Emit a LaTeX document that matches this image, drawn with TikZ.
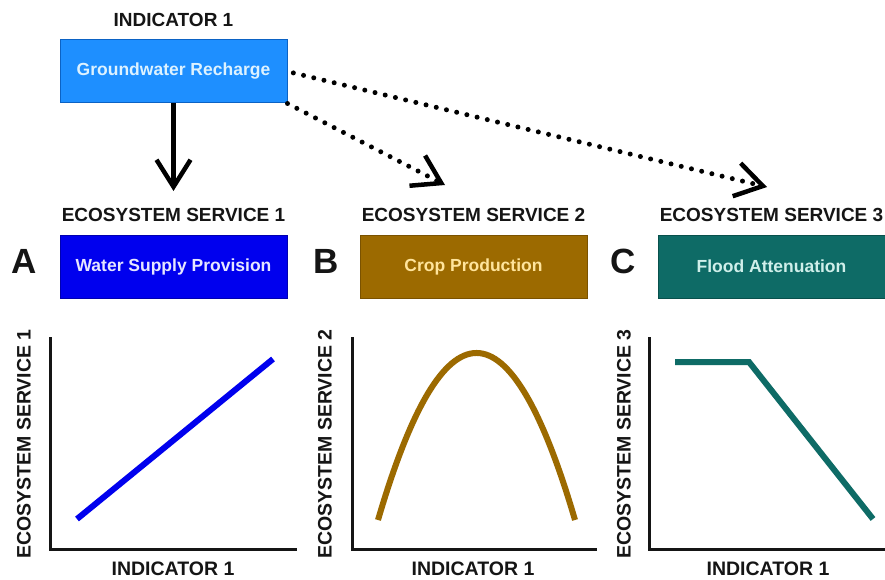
\documentclass[tikz,border=0pt]{standalone}
\usepackage{fontspec}
\setmainfont{Liberation Sans}
\usetikzlibrary{arrows.meta}
\definecolor{topblue}{HTML}{1E8FFF}
\definecolor{topblueD}{HTML}{0B62C4}
\definecolor{toptext}{HTML}{DDF2FF}
\definecolor{blueA}{HTML}{0000EE}
\definecolor{blueAD}{HTML}{0000B0}
\definecolor{textA}{HTML}{E6E6FF}
\definecolor{brownB}{HTML}{9C6A00}
\definecolor{brownBD}{HTML}{7A5200}
\definecolor{textB}{HTML}{FFE49C}
\definecolor{tealC}{HTML}{0E6B66}
\definecolor{tealCD}{HTML}{08504C}
\definecolor{textC}{HTML}{CFEFEA}
\definecolor{headtext}{HTML}{151515}
\tikzset{
  boxnode/.style={minimum width=227pt, minimum height=63pt, inner sep=0pt, line width=1pt,
    font=\fontsize{17.5}{20}\selectfont\bfseries},
  headnode/.style={font=\fontsize{19}{22}\selectfont\bfseries, text=headtext, inner sep=0pt},
  axlabel/.style={font=\fontsize{19.5}{22}\selectfont\bfseries, text=headtext, inner sep=0pt},
  letternode/.style={font=\fontsize{35}{40}\selectfont\bfseries, text=headtext, inner sep=0pt},
  axisline/.style={line width=3pt, line join=miter, line cap=rect, draw=headtext},
  solidarr/.style={line width=4.5pt, -{Straight Barb[length=27pt,width=34pt,line width=4.5pt]}},
  dotarr/.style={line width=5pt, line cap=round, dash pattern=on 0pt off 10.5pt,
    -{Straight Barb[length=27pt,width=34pt,line width=4.5pt]}},
  curve/.style={line width=6pt, line cap=butt, line join=miter}
}
\begin{document}
\begin{tikzpicture}[x=1pt,y=-1pt]
\useasboundingbox[fill=white] (0,0) rectangle (885,580);

% top indicator
\node[headnode] (ind) at (173.5,20) {INDICATOR 1};
\node[boxnode, fill=topblue, draw=topblueD, text=toptext] (gw) at (173.5,71.5) {Groundwater Recharge};

% headings
\node[headnode] (h1) at (173.5,215) {ECOSYSTEM SERVICE 1};
\node[headnode] (h2) at (473.5,215) {ECOSYSTEM SERVICE 2};
\node[headnode] (h3) at (771.5,215) {ECOSYSTEM SERVICE 3};

% service boxes
\node[boxnode, fill=blueA, draw=blueAD, text=textA] (bA) at (173.5,266.5) {Water Supply Provision};
\node[boxnode, fill=brownB, draw=brownBD, text=textB] (bB) at (473.5,266.5) {Crop Production};
\node[boxnode, fill=tealC, draw=tealCD, text=textC] (bC) at (771.5,266.5) {Flood Attenuation};

% panel letters
\node[letternode] (lA) at (24,261) {A};
\node[letternode] (lB) at (326,261) {B};
\node[letternode] (lC) at (623,261) {C};

% arrows
\coordinate (t1) at (173.5,191);
\coordinate (t2) at (445,185);
\coordinate (t3) at (767,187);
\draw[solidarr] (gw.south) -- (t1);
\draw[dotarr] (gw.south east) -- (t2);
\draw[dotarr, shorten <=6pt] (gw.east) -- (t3);

% panel A
\draw[axisline] (50,338) -- (50,549) -- (295,549);
\draw[curve, draw=blueA] (77,519) -- (273,359);
\node[axlabel, rotate=90] (yA) at (24,444) {ECOSYSTEM SERVICE 1};
\node[axlabel] (xA) at (173,569) {INDICATOR 1};

% panel B
\draw[axisline] (352,338) -- (352,549) -- (595,549);
\draw[curve, draw=brownB] (378,520) .. controls (443.3,297.3) and (509.7,297.3) .. (575,520);
\node[axlabel, rotate=90] (yB) at (325,444) {ECOSYSTEM SERVICE 2};
\node[axlabel] (xB) at (473,569) {INDICATOR 1};

% panel C
\draw[axisline] (649,338) -- (649,549) -- (886,549);
\draw[curve, draw=tealC] (675,362) -- (749,362) -- (873,519);
\node[axlabel, rotate=90] (yC) at (624,444) {ECOSYSTEM SERVICE 3};
\node[axlabel] (xC) at (768,569) {INDICATOR 1};
\end{tikzpicture}
\end{document}
